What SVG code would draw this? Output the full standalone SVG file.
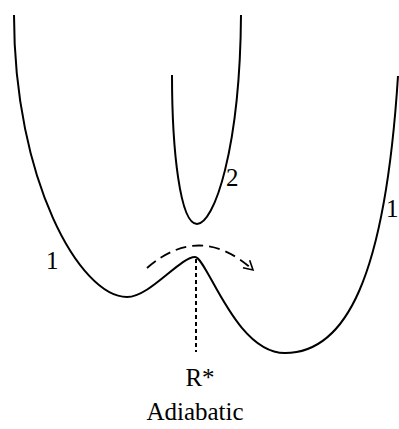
<svg xmlns="http://www.w3.org/2000/svg" width="399" height="429" viewBox="0 0 399 429">
<style>
.c{fill:none;stroke:#000;stroke-width:2}
.t{font-family:"Liberation Serif","Times New Roman",serif;font-size:25px;fill:#000}
</style>
<defs>
<marker id="ah" markerWidth="14" markerHeight="14" refX="10" refY="6" orient="auto" markerUnits="userSpaceOnUse">
<path d="M1,1 L10,6 L1,11" fill="none" stroke="#000" stroke-width="1.6"/>
</marker>
</defs>
<rect width="399" height="429" fill="#fff"/>
<g id="curve1">
<path class="c" d="M14,15 C14,180 80,297 127,297 C150,297 180,257 195,257 C207,257 235,353 285,353 C345,353 385,280 398,76"/>
<text class="t" x="46" y="269">1</text>
<text class="t" x="386" y="217">1</text>
</g>
<g id="curve2">
<path class="c" d="M172,75 C172,150 180,224 197,224 C214,224 240,150 241,15"/>
<text class="t" x="226" y="186">2</text>
</g>
<g id="connectors">
<path d="M147,268 Q200,222 253,270" fill="none" stroke="#000" stroke-width="1.8" stroke-dasharray="11,6" marker-end="url(#ah)"/>
<line x1="196" y1="259" x2="196" y2="352" stroke="#000" stroke-width="2" stroke-dasharray="4,3"/>
</g>
<g id="labels">
<text class="t" x="200" y="386" text-anchor="middle">R*</text>
<text class="t" x="195" y="420" text-anchor="middle">Adiabatic</text>
</g>
</svg>
